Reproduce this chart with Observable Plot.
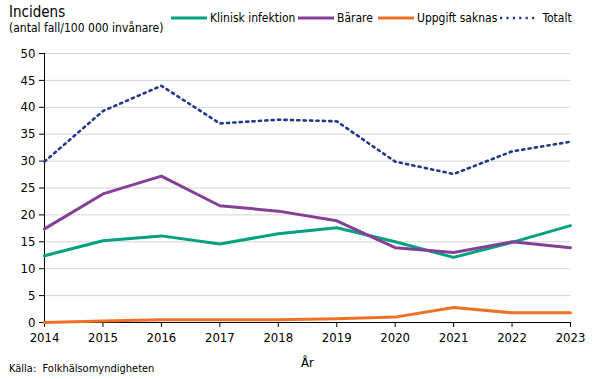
<!DOCTYPE html>
<html>
<head>
<meta charset="utf-8">
<script src="https://cdn.jsdelivr.net/npm/d3@7"></script>
<script src="https://cdn.jsdelivr.net/npm/@observablehq/plot@0.6"></script>
<style>
  html, body { margin: 0; padding: 0; background: #fff; }
  body { width: 605px; height: 379px; overflow: hidden; font-family: "DejaVu Sans Condensed", "DejaVu Sans", sans-serif; color: #000; }
  #wrap { position: relative; width: 605px; height: 379px; }
  #chart { position: absolute; left: 0; top: 0; }
  .abs { position: absolute; white-space: nowrap; }
  #title { left: 9px; top: 3px; font-size: 15px; }
  #subtitle { left: 9px; top: 21px; font-size: 12px; }
  #caption { left: 9px; top: 362px; font-size: 11px; }
  .leg { position: absolute; top: 10px; font-size: 12px; display: flex; align-items: center; height: 16px; }
  .leg svg { margin-right: 3px; }
</style>
</head>
<body>
<div id="wrap">
  <div id="chart"></div>
  <div class="abs" id="title">Incidens</div>
  <div class="abs" id="subtitle">(antal fall/100 000 invånare)</div>
  <div id="legend"></div>
  <div class="abs" id="caption">Källa:&nbsp; Folkhälsomyndigheten</div>
</div>
<script>
const years = [2014, 2015, 2016, 2017, 2018, 2019, 2020, 2021, 2022, 2023];
const kliniskInfektion = [12.4, 15.2, 16.1, 14.6, 16.5, 17.6, 15.0, 12.1, 14.9, 18.0];
const barare = [17.4, 23.9, 27.2, 21.7, 20.7, 18.9, 13.9, 13.0, 15.0, 13.9];
const uppgiftSaknas = [0.0, 0.3, 0.5, 0.5, 0.5, 0.7, 1.0, 2.8, 1.8, 1.8];
const totalt = [29.9, 39.3, 44.0, 37.0, 37.7, 37.4, 29.9, 27.6, 31.8, 33.6];
const yTicks = [0, 5, 10, 15, 20, 25, 30, 35, 40, 45, 50];

const seriesNames = ["Klinisk infektion", "Bärare", "Uppgift saknas", "Totalt"];
const seriesValues = [kliniskInfektion, barare, uppgiftSaknas, totalt];
const colors = ["#00a080", "#843f97", "#f07125", "#23398a"];

const rows = [];
seriesNames.forEach((s, i) => years.forEach((y, j) => rows.push({series: s, year: y, value: seriesValues[i][j]})));

const solid = rows.filter(d => d.series !== "Totalt");
const dotted = rows.filter(d => d.series === "Totalt");
const dotDash = "2.2,4.2";

const plot = Plot.plot({
  width: 605,
  height: 379,
  marginLeft: 44,
  marginRight: 35,
  marginTop: 53,
  marginBottom: 57,
  style: {fontFamily: '"DejaVu Sans Condensed", "DejaVu Sans", sans-serif', fontSize: "12px", color: "#000", background: "transparent"},
  x: {domain: [2014, 2023], ticks: years, tickFormat: d => String(d), label: "År"},
  y: {domain: [0, 50], ticks: yTicks, label: null},
  color: {domain: seriesNames, range: colors},
  marks: [
    Plot.gridY(yTicks.filter(t => t > 0), {stroke: "#d4d4d4", strokeOpacity: 1, strokeWidth: 1}),
    Plot.axisY({ticks: yTicks, tickSize: 5, tickPadding: 4, fontSize: 13, stroke: "#000"}),
    Plot.axisX({ticks: years, tickFormat: d => String(d), tickSize: 5, tickPadding: 5, fontSize: 13, stroke: "#000", label: "År", labelAnchor: "center", labelOffset: 44, labelArrow: "none"}),
    Plot.ruleX([2014], {stroke: "#000", strokeWidth: 1}),
    Plot.ruleY([0], {stroke: "#000", strokeWidth: 1}),
    Plot.line(dotted, {x: "year", y: "value", stroke: "series", strokeWidth: 2.6, strokeDasharray: dotDash}),
    Plot.line(solid, {x: "year", y: "value", z: "series", stroke: "series", strokeWidth: 3})
  ]
});
document.getElementById("chart").appendChild(plot);

// legend
const legendPos = [171, 298, 378, 500];
const legendEl = document.getElementById("legend");
seriesNames.forEach((s, i) => {
  const div = document.createElement("div");
  div.className = "leg";
  div.style.left = legendPos[i] + "px";
  const dash = s === "Totalt" ? `stroke-dasharray="${dotDash}"` : "";
  const sw = s === "Totalt" ? 2.6 : 3;
  div.innerHTML = `<svg width="36" height="6"><line x1="0" x2="36" y1="3" y2="3" stroke="${colors[i]}" stroke-width="${sw}" ${dash}/></svg>` + (s === "Totalt" ? "&nbsp;" : "") + s;
  legendEl.appendChild(div);
});
</script>
</body>
</html>
